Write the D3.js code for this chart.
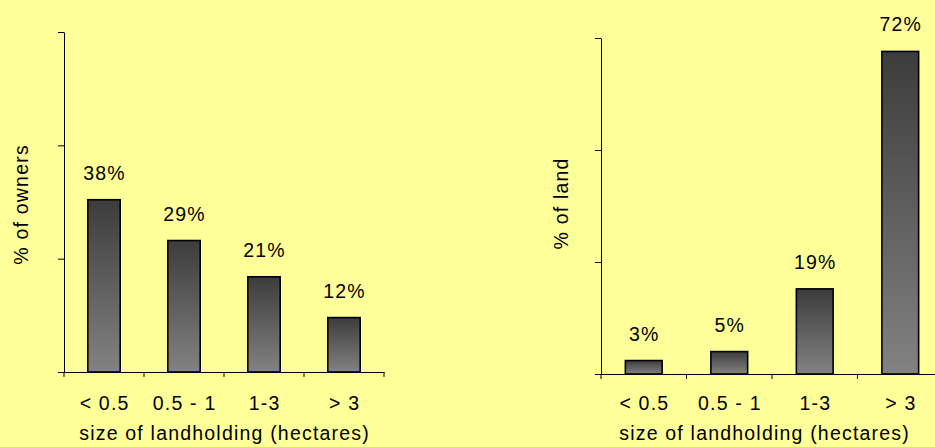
<!DOCTYPE html>
<html>
<head>
<meta charset="utf-8">
<script src="https://cdn.jsdelivr.net/npm/d3@7"></script>
<style>
  html, body { margin: 0; padding: 0; background: #FFFF99; }
  svg { display: block; }
  text { font-family: "Liberation Sans", Arial, sans-serif; fill: #000; }
</style>
</head>
<body>
<svg id="chart" width="935" height="447"></svg>
<script>
// Landholding categories and the two distributions
const categories = ["< 0.5", "0.5 - 1", "1-3", "> 3"];
const ownersPct = [38, 29, 21, 12];
const landPct = [3, 5, 19, 72];
const yTicks = [0, 25, 50, 75];
const xTitle = "size of landholding (hectares)";
const yTitleOwners = "% of owners";
const yTitleLand = "% of land";

const svg = d3.select("#chart");
const FS = 19.5, LS = 1.2;

const defs = svg.append("defs");
const grad = defs.append("linearGradient")
  .attr("id", "barGrad").attr("x1", 0).attr("y1", 0).attr("x2", 0).attr("y2", 1);
grad.append("stop").attr("offset", "0%").attr("stop-color", "#3c3c3c");
grad.append("stop").attr("offset", "100%").attr("stop-color", "#828282");

function txt(g, s, x, y, opts = {}) {
  const t = g.append("text")
    .attr("x", x + LS / 2).attr("y", y)
    .attr("text-anchor", "middle")
    .style("font-size", FS + "px")
    .style("letter-spacing", LS + "px")
    .text(s);
  if (opts.rotate) t.attr("transform", `rotate(-90, ${x}, ${y})`);
  return t;
}

function panel(cfg) {
  const g = svg.append("g");
  const x = d3.scaleBand().domain(categories).range([cfg.x0, cfg.x1]).padding(0);
  const y = d3.scaleLinear().domain([0, 75]).range([cfg.yBase, cfg.yTop]);
  const barW = x.step() * cfg.barFrac;

  // bars
  g.selectAll("rect.bar").data(cfg.values).join("rect")
    .attr("class", "bar")
    .attr("x", (d, i) => x(categories[i]) + x.bandwidth() / 2 - barW / 2)
    .attr("y", d => y(d))
    .attr("width", barW)
    .attr("height", d => y(0) - y(d))
    .attr("fill", "url(#barGrad)")
    .attr("stroke", "#000")
    .attr("stroke-width", 1.6);

  // value labels
  cfg.values.forEach((d, i) => {
    txt(g, d + "%", x(categories[i]) + x.bandwidth() / 2, y(d) - 20);
  });

  // y axis
  const ya = g.append("g").attr("transform", `translate(${cfg.x0},0)`)
    .call(d3.axisLeft(y).tickValues(yTicks).tickFormat("").tickSize(6).tickSizeOuter(0));
  ya.selectAll("path,line").attr("stroke", "#000");

  // x axis line with ticks at category boundaries
  const xa = g.append("g").attr("transform", `translate(0,${cfg.yBase})`)
    .call(d3.axisBottom(x).tickSize(0).tickSizeOuter(0).tickFormat(""));
  xa.select("path").attr("stroke", "#000");
  const bounds = categories.map(c => x(c)).concat([x.range()[1]]);
  g.selectAll("line.xt").data(bounds).join("line")
    .attr("class", "xt")
    .attr("x1", d => d).attr("x2", d => d)
    .attr("y1", cfg.yBase).attr("y2", cfg.yBase + 5)
    .attr("stroke", "#000");

  // category labels
  categories.forEach(c => txt(g, c, x(c) + x.bandwidth() / 2, 410));

  // axis titles
  txt(g, xTitle, cfg.xTitleX, 440);
  txt(g, cfg.yTitle, cfg.yTitleX, cfg.yTitleY, { rotate: true });
}

panel({ x0: 64, x1: 384, yTop: 32, yBase: 372, barFrac: 0.405,
        values: ownersPct, yTitle: yTitleOwners,
        xTitleX: 224, yTitleX: 28, yTitleY: 205 });

panel({ x0: 601, x1: 943, yTop: 38, yBase: 374, barFrac: 0.43,
        values: landPct, yTitle: yTitleLand,
        xTitleX: 764, yTitleX: 568, yTitleY: 204 });
</script>
</body>
</html>
